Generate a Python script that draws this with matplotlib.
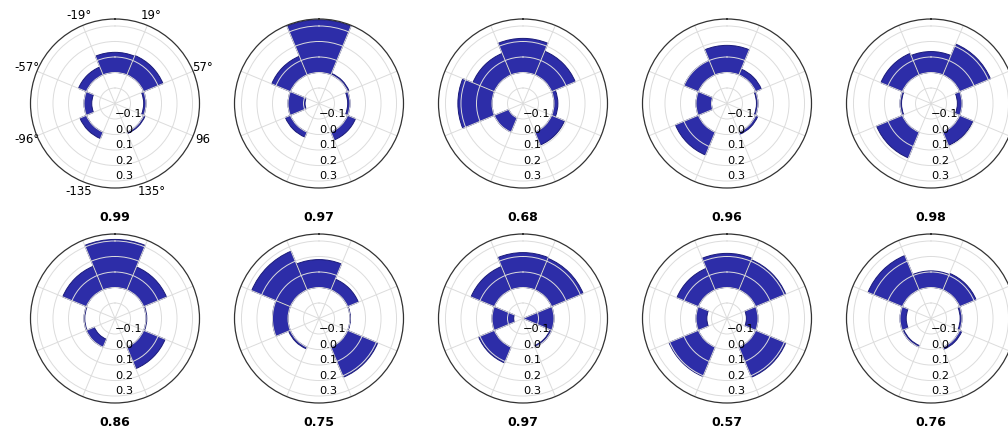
import numpy as np
import matplotlib.pyplot as plt

# sector centres (deg, clockwise from north) and the score shown under each rose
sector_deg = [-135, -90, -45, 0, 45, 90, 135]
scores = ['0.99', '0.97', '0.68', '0.96', '0.98',
          '0.86', '0.75', '0.97', '0.57', '0.76']

# one list per rose, in sector order
r01 = [0.045, -0.05, 0.055, 0.13, 0.135, -0.015, 0.01]
r02 = [0.035, -0.11, 0.13, 0.34, 0.01, -0.015, 0.055]
r03 = [-0.10, 0.22, 0.15, 0.22, 0.165, 0.025, 0.09]
r04 = [0.16, -0.10, 0.10, 0.175, 0.04, -0.01, 0.015]
r05 = [0.18, -0.01, 0.15, 0.135, 0.215, -0.03, 0.093]
r06 = [-0.055, -0.005, 0.165, 0.31, 0.16, 0.005, 0.15]
r07 = [0.012, 0.10, 0.27, 0.18, 0.075, 0.003, 0.21]
r08 = [0.11, -0.14, 0.163, 0.225, 0.22, -0.20, -0.01]
r09 = [0.205, -0.07, 0.15, 0.22, 0.21, -0.075, 0.21]
r10 = [-0.01, -0.04, 0.24, 0.107, 0.115, -0.012, 0.015]
roses = [r01, r02, r03, r04, r05, r06, r07, r08, r09, r10]

grid_deg = [22.5, 67.5, 112.5, 157.5, 202.5, 247.5, 292.5, 337.5]
grid_labels = ['19°', '57°', '96', '135°', '-135', '-96°', '-57°', '-19°']
r_ticks = [-0.1, 0.0, 0.1, 0.2, 0.3]

W, H = 1008, 433
fig = plt.figure(figsize=(W / 100, H / 100), dpi=100)

R = 84.5
centres_x = [115, 319, 523, 727, 931]
centres_y = [103.5, 318.5]
title_y = [217, 422]

theta = np.deg2rad(sector_deg)
width = np.deg2rad(45)

for i, vals in enumerate(roses):
    row, col = divmod(i, 5)
    cx, cy = centres_x[col], centres_y[row]
    ax = fig.add_axes([(cx - R) / W, (H - cy - R) / H, 2 * R / W, 2 * R / H],
                      projection='polar')
    ax.set_theta_zero_location('N')
    ax.set_theta_direction(-1)
    ax.bar(theta, vals, width=width, bottom=0.0,
           color='#2d2da8', edgecolor='#1a1a78', linewidth=0.7)
    ax.set_ylim(-0.2, 0.345)
    ax.set_rticks(r_ticks)
    ax.set_rlabel_position(180)
    labels = grid_labels if i == 0 else [''] * len(grid_deg)
    ax.set_thetagrids(grid_deg, labels)
    ax.tick_params(axis='x', which='both', labelsize=8.5, pad=0.5, length=0)
    ax.tick_params(axis='y', which='both', labelsize=8.2, length=0)
    ax.grid(color='#dcdcdc', linewidth=0.7)
    for name in ('start', 'end', 'inner'):
        ax.spines[name].set_visible(False)
    ax.spines['polar'].set_color('#333333')
    ax.spines['polar'].set_linewidth(0.9)
    fig.text(cx / W, 1 - title_y[row] / H, scores[i],
             ha='center', va='center', fontsize=9, fontweight='bold')

fig.savefig('out.png', dpi=100)
